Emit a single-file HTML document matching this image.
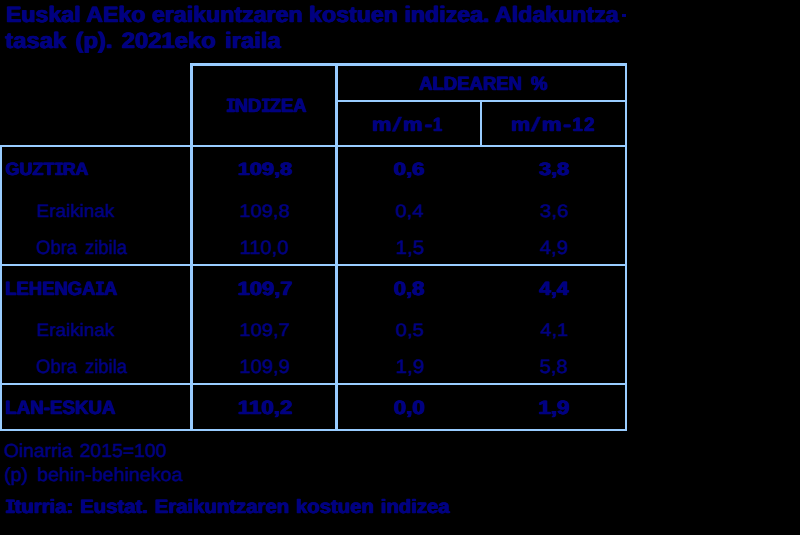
<!DOCTYPE html>
<html lang="eu">
<head>
<meta charset="utf-8">
<title>Euskal AEko eraikuntzaren kostuen indizea</title>
<style>
html,body{margin:0;padding:0;background:#000;}
body{width:800px;height:535px;position:relative;overflow:hidden;font-family:"Liberation Sans",sans-serif;color:#000080;}
.l{position:absolute;background:#99ccff;}
.t{position:absolute;white-space:pre;transform-origin:0 0;margin:0;text-rendering:geometricPrecision;-webkit-text-stroke:0.5px #000080;}
.b{font-weight:bold;-webkit-text-stroke:0.4px #000080;text-shadow:0.5px 0 0 #000080,-0.5px 0 0 #000080;}
.I{display:inline-block;font-family:"Liberation Mono",monospace;font-size:1.045em;width:.37em;margin:0 .035em;text-indent:-.075em;transform:scaleX(.84);transform-origin:0 0;}
</style>
</head>
<body>
<div class="l" style="left:190px;top:63px;width:437px;height:3px"></div>
<div class="l" style="left:190px;top:63px;width:3px;height:368px"></div>
<div class="l" style="left:335px;top:63px;width:3px;height:368px"></div>
<div class="l" style="left:625px;top:63px;width:2px;height:368px"></div>
<div class="l" style="left:338px;top:100px;width:289px;height:2px"></div>
<div class="l" style="left:480px;top:100px;width:2px;height:47px"></div>
<div class="l" style="left:0px;top:145px;width:627px;height:2px"></div>
<div class="l" style="left:0px;top:145px;width:2px;height:286px"></div>
<div class="l" style="left:0px;top:264px;width:627px;height:2px"></div>
<div class="l" style="left:0px;top:383px;width:627px;height:2px"></div>
<div class="l" style="left:0px;top:429px;width:627px;height:2px"></div>
<div class="t b" style="left:6px;top:4px;font-size:22.33px;line-height:22.33px;transform:translateX(0.16px) scaleX(1.0383)">Euskal AEko eraikuntzaren kostuen indizea. Aldakuntza</div>
<div class="l" style="left:622px;top:14px;width:4px;height:3px;background:#000080"></div>
<div class="t b" style="left:5px;top:30px;font-size:22.33px;line-height:22.33px;word-spacing:2.5px;transform:translateX(0.57px) scaleX(1.0664)">tasak (p). 2021eko iraila</div>
<div class="t b" style="left:226px;top:97px;font-size:19.43px;line-height:19.43px;transform:translateX(0.50px) scaleX(0.9472)"><span class="I">I</span>ND<span class="I">I</span>ZEA</div>
<div class="t b" style="left:419px;top:75px;font-size:19.43px;line-height:19.43px;word-spacing:4px;transform:translateX(0.42px) scaleX(0.9527)">ALDEAREN %</div>
<div><span class="t b" style="left:372px;top:116px;font-size:19.43px;line-height:19.43px;transform:translateX(0.19px) scaleX(1.1237)">m</span><span class="t" style="left:392px;top:116px;font-size:19.43px;line-height:19.43px;transform:translateX(0.68px) scaleX(1.6794)">/</span><span class="t b" style="left:403px;top:116px;font-size:19.43px;line-height:19.43px;transform:translateX(0.37px) scaleX(1.1224)">m</span><span class="t b" style="left:425px;top:116px;font-size:19.43px;line-height:19.43px;transform:translateX(0.03px) scaleX(1.1713)">-</span><span class="t b" style="left:433px;top:116px;font-size:19.43px;line-height:19.43px;transform:translateX(0.35px) scaleX(0.8519)">1</span></div>
<div><span class="t b" style="left:511px;top:116px;font-size:19.43px;line-height:19.43px;transform:translateX(0.22px) scaleX(1.1110)">m</span><span class="t" style="left:531px;top:116px;font-size:19.43px;line-height:19.43px;transform:translateX(0.36px) scaleX(1.7298)">/</span><span class="t b" style="left:542px;top:116px;font-size:19.43px;line-height:19.43px;transform:translateX(0.18px) scaleX(1.1368)">m</span><span class="t b" style="left:563px;top:116px;font-size:19.43px;line-height:19.43px;transform:translateX(0.51px) scaleX(1.2229)">-</span><span class="t b" style="left:572px;top:116px;font-size:19.43px;line-height:19.43px;transform:translateX(0.71px) scaleX(0.9450)">1</span><span class="t b" style="left:584px;top:116px;font-size:19.43px;line-height:19.43px;transform:translateX(0.39px) scaleX(0.9573)">2</span></div>
<div class="t b" style="left:5px;top:160px;font-size:17.98px;line-height:17.98px;transform:translateX(0.78px) scaleX(0.9993)">GUZT<span class="I">I</span>RA</div>
<div class="t b" style="left:237px;top:160px;font-size:17.98px;line-height:17.98px;transform:translateX(1.00px) scaleX(1.2113)">109,8</div>
<div class="t b" style="left:393px;top:160px;font-size:17.98px;line-height:17.98px;transform:translateX(0.97px) scaleX(1.2334)">0,6</div>
<div class="t b" style="left:539px;top:160px;font-size:17.98px;line-height:17.98px;transform:translateX(0.33px) scaleX(1.2053)">3,8</div>
<div class="t" style="left:36px;top:202px;font-size:17.98px;line-height:17.98px;transform:translateX(0.86px) scaleX(1.0492)">Eraikinak</div>
<div class="t" style="left:239px;top:202px;font-size:18.0px;line-height:18.0px;transform:translateX(0.62px) scaleX(1.1154)">109,8</div>
<div class="t" style="left:395px;top:202px;font-size:17.98px;line-height:17.98px;transform:translateX(0.51px) scaleX(1.1284)">0,4</div>
<div class="t" style="left:540px;top:202px;font-size:18.0px;line-height:18.0px;transform:translateX(0.04px) scaleX(1.1404)">3,6</div>
<div class="t" style="left:36px;top:239px;font-size:19.45px;line-height:19.45px;word-spacing:3px;transform:translateX(0.37px) scaleX(0.9473)">Obra zibila</div>
<div class="t" style="left:239px;top:239px;font-size:19.45px;line-height:19.45px;transform:translateX(0.65px) scaleX(1.0384)">110,0</div>
<div class="t" style="left:395px;top:239px;font-size:19.43px;line-height:19.43px;transform:translateX(0.76px) scaleX(1.0579)">1,5</div>
<div class="t" style="left:540px;top:239px;font-size:19.43px;line-height:19.43px;transform:translateX(0.01px) scaleX(1.0415)">4,9</div>
<div class="t b" style="left:5px;top:280px;font-size:19.43px;line-height:19.43px;transform:translateX(0.56px) scaleX(0.9492)">LEHENGA<span class="I">I</span>A</div>
<div class="t b" style="left:237px;top:280px;font-size:19.43px;line-height:19.43px;transform:translateX(0.89px) scaleX(1.1282)">109,7</div>
<div class="t b" style="left:393px;top:280px;font-size:19.43px;line-height:19.43px;transform:translateX(0.99px) scaleX(1.1371)">0,8</div>
<div class="t b" style="left:539px;top:280px;font-size:19.43px;line-height:19.43px;transform:translateX(0.57px) scaleX(1.0840)">4,4</div>
<div class="t" style="left:36px;top:321px;font-size:17.98px;line-height:17.98px;transform:translateX(0.86px) scaleX(1.0492)">Eraikinak</div>
<div class="t" style="left:239px;top:321px;font-size:18.0px;line-height:18.0px;transform:translateX(0.60px) scaleX(1.1187)">109,7</div>
<div class="t" style="left:395px;top:321px;font-size:17.98px;line-height:17.98px;transform:translateX(0.85px) scaleX(1.1322)">0,5</div>
<div class="t" style="left:540px;top:321px;font-size:18.0px;line-height:18.0px;transform:translateX(0.60px) scaleX(1.1106)">4,1</div>
<div class="t" style="left:36px;top:358px;font-size:19.45px;line-height:19.45px;word-spacing:3px;transform:translateX(0.37px) scaleX(0.9473)">Obra zibila</div>
<div class="t" style="left:239px;top:358px;font-size:19.45px;line-height:19.45px;transform:translateX(0.51px) scaleX(1.0371)">109,9</div>
<div class="t" style="left:395px;top:358px;font-size:19.43px;line-height:19.43px;transform:translateX(0.75px) scaleX(1.0653)">1,9</div>
<div class="t" style="left:539px;top:358px;font-size:19.43px;line-height:19.43px;transform:translateX(0.68px) scaleX(1.0449)">5,8</div>
<div class="t b" style="left:5px;top:399px;font-size:19.43px;line-height:19.43px;transform:translateX(0.56px) scaleX(0.9638)">LAN-ESKUA</div>
<div class="t b" style="left:237px;top:399px;font-size:19.43px;line-height:19.43px;transform:translateX(0.99px) scaleX(1.1502)">110,2</div>
<div class="t b" style="left:393px;top:399px;font-size:19.43px;line-height:19.43px;transform:translateX(0.96px) scaleX(1.1497)">0,0</div>
<div class="t b" style="left:538px;top:399px;font-size:19.43px;line-height:19.43px;transform:translateX(0.61px) scaleX(1.1517)">1,9</div>
<div class="t" style="left:3px;top:442px;font-size:18.86px;line-height:18.86px;word-spacing:1.5px;transform:translateX(0.91px) scaleX(1.0282)">Oinarria 2015=100</div>
<div class="t" style="left:4px;top:466px;font-size:18.98px;line-height:18.98px;word-spacing:3.5px;transform:translateX(0.13px) scaleX(1.0366)">(p) behin-behinekoa</div>
<div class="t b" style="left:5px;top:498px;font-size:19.43px;line-height:19.43px;word-spacing:1.2px;transform:translateX(0.56px) scaleX(1.0457)"><span class="I">I</span>turria: Eustat. Eraikuntzaren kostuen indizea</div>
</body>
</html>
